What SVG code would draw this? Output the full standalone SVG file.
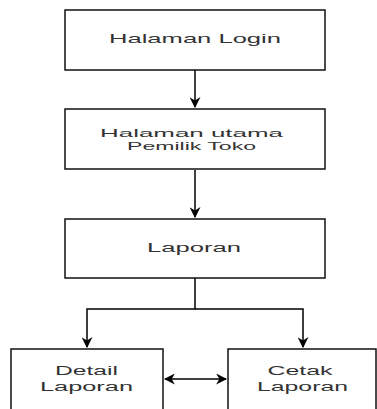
<svg xmlns="http://www.w3.org/2000/svg" width="377" height="409" viewBox="0 0 377 409">
<defs>
<marker id="arr" viewBox="0 0 10 10" refX="9" refY="5" markerWidth="11" markerHeight="11" markerUnits="userSpaceOnUse" orient="auto-start-reverse">
<path d="M0,0 L10,5 L0,10 L3,5 Z" fill="#000"/>
</marker>
<style>
.box{fill:#fff;stroke:#111;stroke-width:1.5}
.t{font-family:"Liberation Sans",Arial,sans-serif;font-size:12px;fill:#333;text-anchor:middle}
.s{font-size:11px}
.c{fill:none;stroke:#000;stroke-width:1.5}
</style>
</defs>
<rect width="377" height="409" fill="#fff"/>
<g id="connectors">
<path class="c" d="M195,70 V107" marker-end="url(#arr)"/>
<path class="c" d="M195,170 V217" marker-end="url(#arr)"/>
<path class="c" d="M195,278 V309 H87 V347" marker-end="url(#arr)"/>
<path class="c" d="M195,309 H303 V347" marker-end="url(#arr)"/>
<path class="c" d="M165,379 H226" marker-start="url(#arr)" marker-end="url(#arr)"/>
</g>
<g id="login">
<rect class="box" x="65" y="10" width="260" height="60"/>
<text class="t" x="195" y="43" style="font-size:13px" textLength="172" lengthAdjust="spacingAndGlyphs">Halaman Login</text>
</g>
<g id="utama">
<rect class="box" x="65" y="109" width="260" height="60"/>
<text class="t s" x="191.5" y="137" textLength="183" lengthAdjust="spacingAndGlyphs">Halaman utama</text>
<text class="t s" x="191.5" y="150" textLength="129" lengthAdjust="spacingAndGlyphs">Pemilik Toko</text>
</g>
<g id="laporan">
<rect class="box" x="65" y="219" width="260" height="59"/>
<text class="t" x="194" y="252" textLength="94" lengthAdjust="spacingAndGlyphs">Laporan</text>
</g>
<g id="detail">
<rect class="box" x="11" y="349" width="152" height="70"/>
<text class="t" x="86.5" y="375" textLength="63" lengthAdjust="spacingAndGlyphs">Detail</text>
<text class="t" x="86.5" y="391" textLength="93" lengthAdjust="spacingAndGlyphs">Laporan</text>
</g>
<g id="cetak">
<rect class="box" x="228" y="349" width="148" height="70"/>
<text class="t" x="300" y="375" textLength="65" lengthAdjust="spacingAndGlyphs">Cetak</text>
<text class="t" x="302.5" y="391" textLength="91" lengthAdjust="spacingAndGlyphs">Laporan</text>
</g>
</svg>
